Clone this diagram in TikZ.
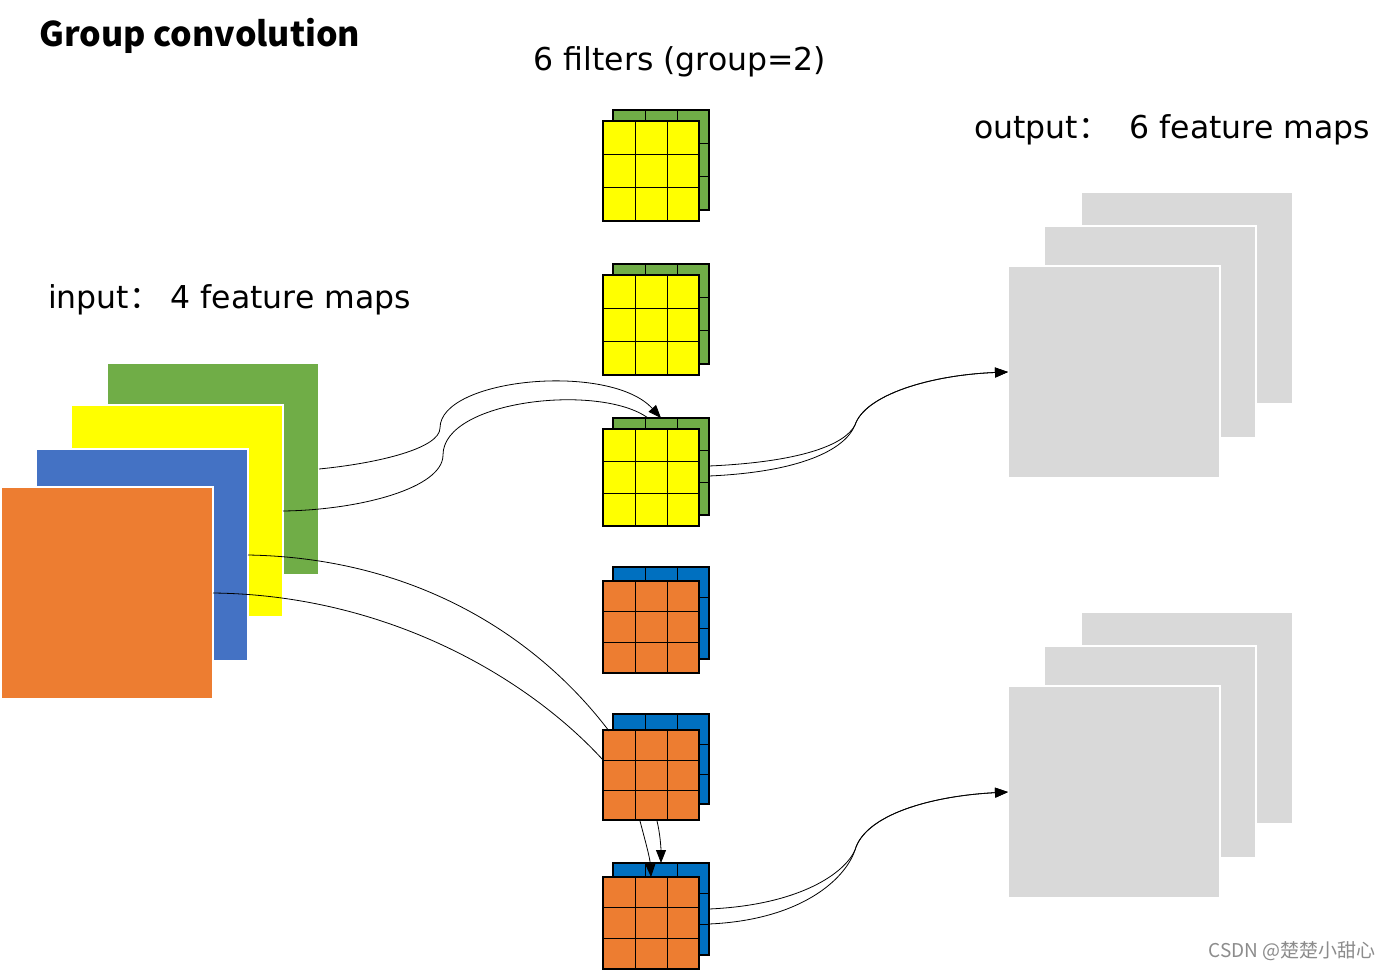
\documentclass[tikz,border=0pt]{standalone}
\usepackage{fontspec}
\setmainfont{DejaVu Sans}
\newfontfamily\cjk{Noto Sans CJK SC}
\usetikzlibrary{calc,arrows.meta}
\definecolor{mgreen}{HTML}{70AD47}
\definecolor{myellow}{HTML}{FFFF00}
\definecolor{mblue}{HTML}{4472C4}
\definecolor{morange}{HTML}{ED7D31}
\definecolor{mgray}{HTML}{D9D9D9}
\definecolor{fblue}{HTML}{0070C0}
\tikzset{
  fmap/.style={draw=white, line width=1.2pt, minimum width=212pt, minimum height=212pt,
    anchor=north west, inner sep=0pt, outer sep=0pt},
  fbox/.style={draw=black, line width=2pt, minimum width=96pt, inner sep=0pt, outer sep=0pt,
    anchor=north west},
  gridline/.style={line width=0.9pt},
  conn/.style={line width=0.8pt},
  tip/.style={-{Triangle[length=13pt,width=10pt]}},
  lbl/.style={font=\fontsize{31.5}{37}\selectfont, inner sep=0pt},
}
\newcommand\gridthree[1]{%
  \foreach \t in {0.3333,0.6667}{%
    \draw[gridline] ($(#1.north west)!\t!(#1.north east)$) -- ($(#1.south west)!\t!(#1.south east)$);
    \draw[gridline] ($(#1.north west)!\t!(#1.south west)$) -- ($(#1.north east)!\t!(#1.south east)$);
  }}
% name, top y of front, height, back offset, back colour, front colour
\newcommand\filterstack[6]{%
  \node[fbox, fill=#5, minimum height=#3pt] (#1b) at (613,#2-#4) {};
  \gridthree{#1b}
  \node[fbox, fill=#6, minimum height=#3pt] (#1f) at (603,#2) {};
  \gridthree{#1f}
}
\begin{document}
\begin{tikzpicture}[x=1pt,y=-1pt]
\useasboundingbox (0,0) rectangle (1394,971);
\fill[white] (0,0) rectangle (1394,971);

% texts
\node[inner sep=0pt, font=\cjk\bfseries\fontsize{34}{40}\selectfont, anchor=west] (title) at (39,36) {Group convolution};
\node[lbl] (tfil) at (680,62) {6 filters (group=2)};
\node[lbl, anchor=west] (tout) at (974,130) {output{\cjk ：}\ \ 6 feature maps};
\node[lbl, anchor=west] (tin) at (48,300) {input{\cjk ：}\ 4 feature maps};
\node[inner sep=0pt, font=\cjk\fontsize{19}{22}\selectfont, text=black!45] (wm) at (1292,951) {CSDN @楚楚小甜心};

% input feature maps
\node[fmap, fill=mgreen] (g) at (107,363) {};
\node[fmap, fill=myellow] (y) at (71,405) {};
\node[fmap, fill=mblue] (b) at (36,449) {};
\node[fmap, fill=morange] (o) at (1,487) {};

% output feature maps
\node[fmap, fill=mgray] (ob1) at (1081,192) {};
\node[fmap, fill=mgray] (om1) at (1044,226) {};
\node[fmap, fill=mgray] (of1) at (1008,266) {};
\node[fmap, fill=mgray] (ob2) at (1081,612) {};
\node[fmap, fill=mgray] (om2) at (1044,646) {};
\node[fmap, fill=mgray] (of2) at (1008,686) {};

% filters
\filterstack{fa}{121}{100}{11}{mgreen}{myellow}
\filterstack{fbb}{275}{100}{11}{mgreen}{myellow}
\filterstack{fc}{429}{97}{11}{mgreen}{myellow}
\filterstack{fd}{581}{92}{14}{fblue}{morange}
\filterstack{fe}{730}{90}{16}{fblue}{morange}
\filterstack{ff}{877}{92}{14}{fblue}{morange}

% connector end points
\coordinate (c2e) at (648,418);
\coordinate (c3e) at (609,731);
\coordinate (c4e) at (603,760);
\coordinate (c5s) at (640,821);
\coordinate (c6s) at (657,821);
\coordinate (c7s) at (709,466);
\coordinate (c8s) at (709,476);
\coordinate (c9s) at (709,909);
\coordinate (c10s) at (709,924);

% connectors
\draw[conn,tip] (g.east) .. controls (380,463) and (440,448) .. (440,428)
  .. controls (440,378) and (610,362) .. (fcb.north);
\draw[conn] (y.east) .. controls (360,510) and (443,488) .. (443,455)
  .. controls (443,400) and (600,383) .. (c2e);
\draw[conn] (b.east) .. controls (420,558) and (540,640) .. (c3e);
\draw[conn] (o.east) .. controls (390,595) and (530,680) .. (c4e);
\draw[conn,tip] (c5s) .. controls (645,840) and (650,858) .. (fff.north);
\draw[conn,tip] (c6s) .. controls (660,833) and (661,848) .. (ffb.north);
\draw[conn,tip] (c7s) .. controls (800,462) and (845,445) .. (855,425)
  .. controls (865,395) and (930,375) .. (of1.west);
\draw[conn,tip] (c8s) .. controls (800,472) and (845,450) .. (855,425)
  .. controls (865,395) and (930,375) .. (of1.west);
\draw[conn,tip] (c9s) .. controls (800,905) and (845,873) .. (855,850)
  .. controls (865,815) and (930,796) .. (of2.west);
\draw[conn,tip] (c10s) .. controls (800,920) and (845,880) .. (855,850)
  .. controls (865,815) and (930,796) .. (of2.west);
\end{tikzpicture}
\end{document}
